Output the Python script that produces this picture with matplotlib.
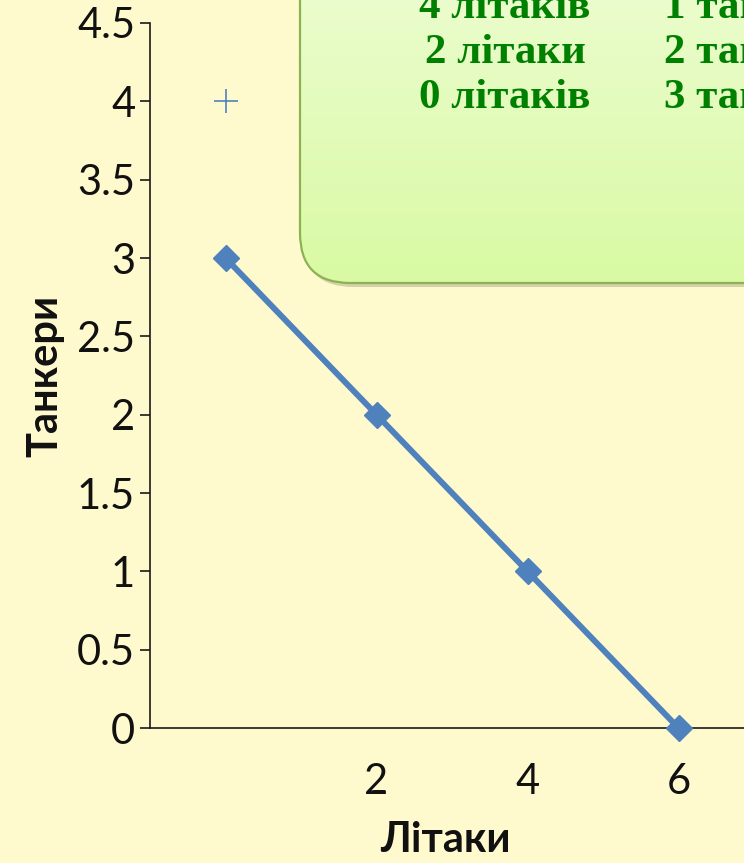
import numpy as np
import matplotlib
matplotlib.use("Agg")
import matplotlib.pyplot as plt
from matplotlib.patches import FancyBboxPatch

# Data
planes = [0, 2, 4, 6]
tankers = [3, 2, 1, 0]
extra_point_x = [0]
extra_point_y = [4]
x_ticks = [2, 4, 6]
y_ticks = [0, 0.5, 1, 1.5, 2, 2.5, 3, 3.5, 4, 4.5]
y_tick_labels = ["0", "0.5", "1", "1.5", "2", "2.5", "3", "3.5", "4", "4.5"]
box_col1 = ["4 літаків", "2 літаки", "0 літаків"]
box_col2 = ["1 танкер", "2 танкери", "3 танкери"]

W, H = 744, 863
BG = "#FFFACD"
BLUE = "#4F81BD"

fig = plt.figure(figsize=(W / 100, H / 100), dpi=100)
fig.patch.set_facecolor(BG)

# Main axes
ax = fig.add_axes([150 / W, 135 / H, 679.5 / W, 705 / H])
ax.set_facecolor("none")
ax.set_xlim(-1, 8)
ax.set_ylim(0, 4.5)
ax.plot(planes, tankers, color=BLUE, lw=4.3, marker="D", ms=13, mec=BLUE,
        mfc=BLUE, clip_on=False, zorder=3)
ax.plot(extra_point_x, extra_point_y, ls="none", marker="+", ms=17, mew=1.2,
        color=BLUE, clip_on=False)

for s in ["top", "right"]:
    ax.spines[s].set_visible(False)
for s in ["left", "bottom"]:
    ax.spines[s].set_color("#1a1a1a")
    ax.spines[s].set_linewidth(1.2)

ax.set_xticks(x_ticks)
ax.set_xticklabels([str(v) for v in x_ticks])
ax.set_yticks(y_ticks)
ax.set_yticklabels(y_tick_labels)
ax.tick_params(axis="x", length=0, pad=25, labelsize=30, labelcolor="#111111")
ax.tick_params(axis="y", length=7.2, width=1.2, color="#1a1a1a", pad=3.5,
               labelsize=30, labelcolor="#111111")
for lab in ax.get_xticklabels() + ax.get_yticklabels():
    lab.set_fontfamily("Lato")

ax.set_ylabel("Танкери", fontfamily="Lato", fontweight="bold", fontsize=30,
              va="center", color="#111111")
ax.yaxis.set_label_coords(-0.1545, 0.5)
ax.set_xlabel("Літаки", fontfamily="Lato", fontweight="bold", fontsize=30,
              va="center", color="#111111")
ax.xaxis.set_label_coords(0.434, -0.159)

# Overlay axes in pixel (image) coordinates for the green box
ov = fig.add_axes([0, 0, 1, 1], zorder=5)
ov.set_xlim(0, W)
ov.set_ylim(H, 0)
ov.axis("off")
ov.patch.set_alpha(0)

bx0, by0, bx1, by1 = 300, -80, 900, 283
shadow = FancyBboxPatch((bx0 + 3, by0 + 4), bx1 - bx0, by1 - by0,
                        boxstyle="round,pad=0,rounding_size=50",
                        fc="#8a8a60", ec="none", alpha=0.35)
ov.add_patch(shadow)
box = FancyBboxPatch((bx0, by0), bx1 - bx0, by1 - by0,
                     boxstyle="round,pad=0,rounding_size=50",
                     fc="none", ec="#8DB255", lw=1.6, zorder=3)
grad = np.linspace(0, 1, 256).reshape(-1, 1)
top_c = np.array([0.92, 0.99, 0.80])
bot_c = np.array([0.85, 0.98, 0.64])
img = top_c[None, None, :] * (1 - grad[..., None]) + bot_c[None, None, :] * grad[..., None]
im = ov.imshow(img, extent=(bx0, bx1, by1, 0), aspect="auto", zorder=2)
clip = FancyBboxPatch((bx0, by0), bx1 - bx0, by1 - by0,
                      boxstyle="round,pad=0,rounding_size=50",
                      fc="none", ec="none")
ov.add_patch(clip)
im.set_clip_path(clip)
ov.add_patch(box)
ov.set_xlim(0, W)
ov.set_ylim(H, 0)

baselines = [18, 63, 108]
for t1, t2, yb in zip(box_col1, box_col2, baselines):
    ov.text(505, yb, t1, ha="center", va="baseline", color="#008000",
            fontfamily="Liberation Serif", fontweight="bold", fontsize=31, zorder=4)
    ov.text(664, yb, t2, ha="left", va="baseline", color="#008000",
            fontfamily="Liberation Serif", fontweight="bold", fontsize=31, zorder=4)

fig.savefig("out.png", dpi=100, facecolor=BG)
